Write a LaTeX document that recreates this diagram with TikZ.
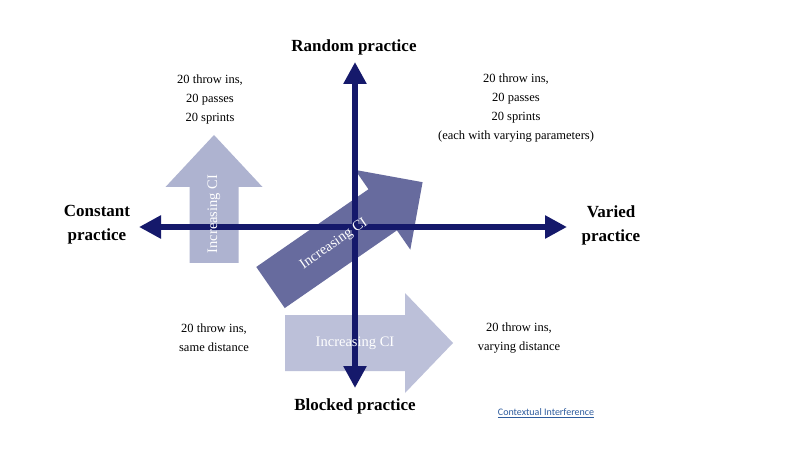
\documentclass[tikz,border=0pt]{standalone}
\usepackage{fontspec}
\setmainfont{Liberation Serif}
\newfontfamily\linkfont{Carlito}
\usetikzlibrary{arrows.meta}
\definecolor{navy}{HTML}{15196B}
\definecolor{lightarr}{HTML}{AEB3D0}
\definecolor{lightarrB}{HTML}{BCC0D9}
\definecolor{darkarr}{HTML}{676B9E}
\definecolor{linkblue}{HTML}{2E5C9E}
\newcommand\fatarrow[8]{%
  \begin{scope}[shift={(#1,#2)},rotate=#3]
    \fill[#8] (0,-#5/2) -- (#4-#7,-#5/2) -- (#4-#7,-#6/2) -- (#4,0)
      -- (#4-#7,#6/2) -- (#4-#7,#5/2) -- (0,#5/2) -- cycle;
  \end{scope}}
\tikzset{
  axis/.style={draw=navy,line width=5.5pt,
    {Triangle[length=22pt,width=22pt]}-{Triangle[length=22pt,width=22pt]}},
  small/.style={align=center,font=\fontsize{12.5}{19}\selectfont,inner sep=0pt},
  bigl/.style={align=center,font=\fontsize{17}{24}\selectfont\bfseries,inner sep=0pt},
  citext/.style={text=white,font=\fontsize{14.5}{16}\selectfont,inner sep=0pt}
}
\begin{document}
\begin{tikzpicture}[x=1pt,y=-1pt]
\useasboundingbox (0,0) rectangle (800,462);
\fill[white] (0,0) rectangle (800,462);
% fat arrows
\fatarrow{214}{263}{90}{128}{49}{97}{52}{lightarr}
\fatarrow{285}{343}{0}{168}{56}{100}{48}{lightarrB}
\fatarrow{270.5}{287.5}{34.7}{185}{50}{97}{48.5}{darkarr}
% axes
\coordinate (top) at (355,62);
\coordinate (bottom) at (355,388);
\coordinate (left) at (139,227);
\coordinate (right) at (567,227);
\draw[axis] (bottom) -- (top);
\draw[axis] (left) -- (right);
% arrow texts
\node[citext,rotate=90] (ciup) at (214,214) {Increasing CI};
\node[citext] (ciright) at (355,343) {Increasing CI};
\node[citext,rotate=34.7] (cidiag) at (334,244) {Increasing CI};
% labels
\node[bigl] (random) at (354,47) {Random practice};
\node[bigl] (blocked) at (355,406) {Blocked practice};
\node[bigl] (constant) at (97,225) {Constant\\practice};
\node[bigl] (varied) at (611,225) {Varied\\practice};
\node[small] (tl) at (210,99) {20 throw ins,\\20 passes\\20 sprints};
\node[small] (tr) at (516,108) {20 throw ins,\\20 passes\\20 sprints\\(each with varying parameters)};
\node[small] (bl) at (214,338) {20 throw ins,\\same distance};
\node[small] (br) at (519,338) {20 throw ins,\\varying distance};
\node[inner sep=0pt,text=linkblue,font=\linkfont\fontsize{10}{12}\selectfont] (link) at (546,413) {\underline{Contextual Interference}};
\end{tikzpicture}
\end{document}
